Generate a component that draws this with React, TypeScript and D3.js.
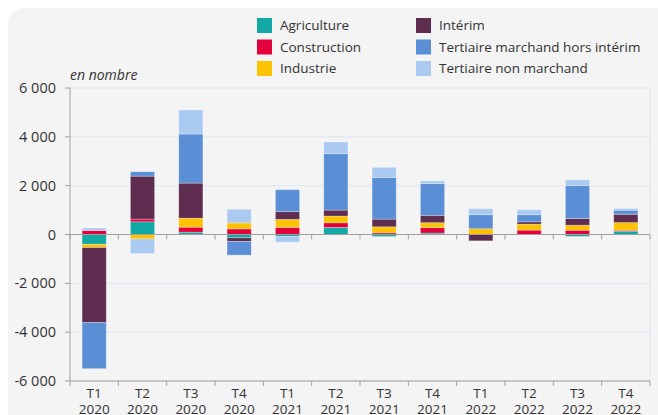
import React from "react";
import * as d3 from "d3";

const categories = ["T1 2020", "T2 2020", "T3 2020", "T4 2020", "T1 2021", "T2 2021", "T3 2021", "T4 2021", "T1 2022", "T2 2022", "T3 2022", "T4 2022"];
const seriesNames = ["Agriculture", "Construction", "Industrie", "Intérim", "Tertiaire marchand hors intérim", "Tertiaire non marchand"];
const agriculture = [-400, 520, 95, -135, -80, 290, -80, 60, 0, 0, -80, 135];
const construction = [165, 110, 205, 230, 290, 190, 70, 220, 0, 180, 175, 40];
const industrie = [-135, -180, 370, 245, 330, 275, 245, 205, 235, 245, 205, 315];
const interim = [-3075, 1760, 1435, -150, 315, 245, 315, 300, -260, 95, 275, 340];
const tertiaireMarchand = [-1885, 180, 2010, -560, 900, 2310, 1710, 1300, 575, 290, 1350, 165];
const tertiaireNonMarchand = [100, -600, 985, 560, -235, 480, 410, 110, 245, 205, 230, 70];
const yTicks = [-6000, -4000, -2000, 0, 2000, 4000, 6000];
const colors = ["#12a8a5", "#e3003d", "#fec300", "#5f2d4f", "#5b8fd5", "#abcaf1"];

const allSeries = [agriculture, construction, industrie, interim, tertiaireMarchand, tertiaireNonMarchand];

export default function App() {
  const left = 70, right = 650, top = 88, bottom = 381;
  const x = d3.scaleBand<string>().domain(categories).range([left, right]).paddingInner(0.5).paddingOuter(0.25);
  const y = d3.scaleLinear().domain([-6000, 6000]).range([bottom, top]);
  const table = categories.map((c, i) => {
    const row: any = { cat: c };
    seriesNames.forEach((s, j) => (row[s] = allSeries[j][i]));
    return row;
  });
  const stack = d3.stack<any>().keys(seriesNames).offset(d3.stackOffsetDiverging);
  const stacked = stack(table);
  const step = x.step();
  const fmt = (v: number) => {
    const s = d3.format(",")(v).replace(/,/g, " ");
    return s.replace("−", "-");
  };
  const font = "'Open Sans', sans-serif";
  const legendItems = seriesNames.map((s, i) => ({ s, i, col: i < 3 ? 0 : 1, row: i % 3 }));

  return (
    <svg width={658} height={415} style={{ position: "absolute", left: 0, top: 0 }} fontFamily={font}>
      <rect x={0} y={0} width={658} height={415} fill="#ffffff" />
      <rect x={8} y={8} width={680} height={440} rx={16} fill="#f4f4f4" />
      {/* legend */}
      {legendItems.map((d) => (
        <g key={d.s} transform={`translate(${d.col === 0 ? 257 : 416},${18 + d.row * 21.5})`}>
          <rect width={15} height={15} fill={colors[d.i]} />
          <text x={23} y={12} fontSize={13.5} fill="#333">{d.s}</text>
        </g>
      ))}
      <text x={70} y={80} fontSize={14} fontStyle="italic" fill="#333">en nombre</text>
      {/* grid */}
      {yTicks.filter((t) => t !== 0).map((t) => (
        <line key={t} x1={left} x2={right} y1={y(t)} y2={y(t)} stroke="#dbe5f2" strokeWidth={1} />
      ))}
      <line x1={right} x2={right} y1={top} y2={bottom} stroke="#dbe5f2" strokeWidth={1} />
      {/* bars */}
      {stacked.map((layer, j) => (
        <g key={layer.key} fill={colors[j]}>
          {layer.map((d, i) => {
            const y0 = y(d[0]), y1 = y(d[1]);
            const h = Math.abs(y0 - y1);
            if (h < 0.01) return null;
            return (
              <rect key={i} x={x(categories[i])} width={x.bandwidth()} y={Math.min(y0, y1)} height={h}
                stroke="rgba(255,255,255,0.35)" strokeWidth={0.8} />
            );
          })}
        </g>
      ))}
      {/* axes */}
      <line x1={left} x2={left} y1={top} y2={bottom} stroke="#a0a0a0" />
      <line x1={left} x2={right} y1={y(0)} y2={y(0)} stroke="#a0a0a0" />
      <line x1={left} x2={right} y1={bottom} y2={bottom} stroke="#a0a0a0" />
      {yTicks.map((t) => (
        <g key={t}>
          <line x1={65} x2={left} y1={y(t)} y2={y(t)} stroke="#a0a0a0" />
          <text x={56} y={y(t) + 5} textAnchor="end" fontSize={14.5} fill="#333">{fmt(t)}</text>
        </g>
      ))}
      {d3.range(categories.length + 1).map((i) => (
        <g key={i}>
          <line x1={left + i * step} x2={left + i * step} y1={y(0)} y2={y(0) + 5} stroke="#a0a0a0" />
          <line x1={left + i * step} x2={left + i * step} y1={bottom} y2={bottom + 5} stroke="#a0a0a0" />
        </g>
      ))}
      {categories.map((c) => {
        const [q, yr] = c.split(" ");
        const cx = (x(c) as number) + x.bandwidth() / 2;
        return (
          <g key={c}>
            <text x={cx} y={398} textAnchor="middle" fontSize={13.5} fill="#333">{q}</text>
            <text x={cx} y={414} textAnchor="middle" fontSize={13.5} fill="#333">{yr}</text>
          </g>
        );
      })}
    </svg>
  );
}
